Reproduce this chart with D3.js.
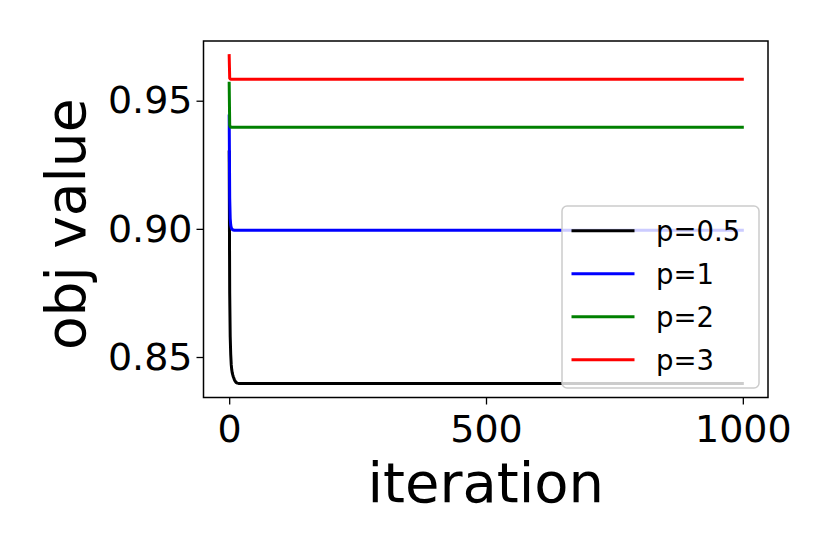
<!DOCTYPE html>
<html>
<head>
<meta charset="utf-8">
<script src="https://cdn.jsdelivr.net/npm/d3@7"></script>
<style>
  html, body { margin: 0; padding: 0; background: #fff; }
  svg { display: block; font-family: "DejaVu Sans", sans-serif; }
</style>
</head>
<body>
<svg id="chart" width="830" height="554"></svg>
<script>
// ---- data ----
const iterations = [0, 1, 2, 3, 4, 5, 6, 7, 8, 9, 10, 11, 12, 13, 14, 15, 16, 18, 20, 999];
const seriesNames = ["p=0.5", "p=1", "p=2", "p=3"];
const seriesColors = ["#000000", "#0000ff", "#008000", "#ff0000"];
const valuesP05 = [0.930, 0.875, 0.858, 0.851, 0.847, 0.845, 0.8438, 0.8430, 0.8423, 0.8418, 0.8412, 0.8408, 0.8405, 0.8402, 0.8400, 0.8399, 0.8398, 0.8397, 0.8397, 0.8397];
const valuesP1  = [0.944, 0.912, 0.904, 0.9015, 0.9005, 0.9000, 0.8998, 0.8996, 0.8996, 0.8995, 0.8995, 0.8995, 0.8995, 0.8995, 0.8995, 0.8995, 0.8995, 0.8995, 0.8995, 0.8995];
const valuesP2  = [0.9568, 0.9405, 0.9399, 0.9397, 0.9396, 0.9396, 0.9396, 0.9396, 0.9396, 0.9396, 0.9396, 0.9396, 0.9396, 0.9396, 0.9396, 0.9396, 0.9396, 0.9396, 0.9396, 0.9396];
const valuesP3  = [0.9676, 0.9588, 0.9585, 0.9584, 0.9584, 0.9584, 0.9584, 0.9584, 0.9584, 0.9584, 0.9584, 0.9584, 0.9584, 0.9584, 0.9584, 0.9584, 0.9584, 0.9584, 0.9584, 0.9584];
const allValues = [valuesP05, valuesP1, valuesP2, valuesP3];
const xTicks = [0, 500, 1000];
const yTicks = [0.85, 0.90, 0.95];
const xLabel = "iteration";
const yLabel = "obj value";

// ---- layout ----
const plot = { left: 203.5, right: 768, top: 41, bottom: 397.5 };
const svg = d3.select("#chart");

const x = d3.scaleLinear().domain([-50, 1049]).range([plot.left, plot.right]);
const y = d3.scaleLinear().domain([0.8342, 0.9733]).range([plot.bottom, plot.top]);

// clip
svg.append("defs").append("clipPath").attr("id", "clip")
  .append("rect").attr("x", plot.left).attr("y", plot.top)
  .attr("width", plot.right - plot.left).attr("height", plot.bottom - plot.top);

// lines
const line = d3.line().x((d, i) => x(iterations[i])).y(d => y(d));
const linesG = svg.append("g").attr("clip-path", "url(#clip)");
allValues.forEach((vals, k) => {
  linesG.append("path")
    .attr("d", line(vals))
    .attr("fill", "none")
    .attr("stroke", seriesColors[k])
    .attr("stroke-width", 3)
    .attr("stroke-linejoin", "round")
    .attr("stroke-linecap", "square");
});

// axes
const xAxis = d3.axisBottom(x).tickValues(xTicks).tickSize(7).tickPadding(11).tickFormat(d3.format("d"));
const gx = svg.append("g").attr("transform", `translate(0,${plot.bottom})`).call(xAxis);
gx.select(".domain").remove();
gx.selectAll("line").attr("stroke", "#000").attr("stroke-width", 1.3);
gx.selectAll("text").attr("font-size", 38).attr("font-family", "DejaVu Sans").attr("fill", "#000");

const yAxis = d3.axisLeft(y).tickValues(yTicks).tickSize(7).tickPadding(4).tickFormat(d3.format(".2f"));
const gy = svg.append("g").attr("transform", `translate(${plot.left},0)`).call(yAxis);
gy.select(".domain").remove();
gy.selectAll("line").attr("stroke", "#000").attr("stroke-width", 1.3);
gy.selectAll("text").attr("font-size", 38).attr("font-family", "DejaVu Sans").attr("fill", "#000");

// frame
svg.append("rect")
  .attr("x", plot.left).attr("y", plot.top)
  .attr("width", plot.right - plot.left).attr("height", plot.bottom - plot.top)
  .attr("fill", "none").attr("stroke", "#000").attr("stroke-width", 1.5);

// axis labels
svg.append("text")
  .attr("x", (plot.left + plot.right) / 2).attr("y", 502)
  .attr("text-anchor", "middle").attr("font-size", 56).attr("fill", "#000")
  .text(xLabel);
svg.append("text")
  .attr("transform", `translate(85,${(plot.top + plot.bottom) / 2 + 5}) rotate(-90)`)
  .attr("text-anchor", "middle").attr("font-size", 55).attr("fill", "#000")
  .text(yLabel);

// legend
const lg = svg.append("g");
lg.append("rect")
  .attr("x", 562).attr("y", 206).attr("width", 197).attr("height", 182)
  .attr("rx", 5).attr("ry", 5)
  .attr("fill", "#fff").attr("fill-opacity", 0.8)
  .attr("stroke", "#cccccc").attr("stroke-width", 1.5);
const rowY = d3.scaleLinear().domain([0, 3]).range([230.7, 359.7]);
seriesNames.forEach((name, k) => {
  const yy = rowY(k);
  lg.append("line").attr("x1", 571.5).attr("x2", 634.5).attr("y1", yy).attr("y2", yy)
    .attr("stroke", seriesColors[k]).attr("stroke-width", 3);
  lg.append("text").attr("x", 656).attr("y", yy).attr("dy", "0.36em")
    .attr("font-size", 27.5).attr("fill", "#000").text(name);
});
</script>
</body>
</html>
